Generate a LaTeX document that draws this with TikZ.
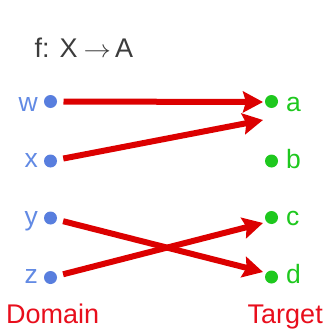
\documentclass[tikz,border=0pt]{standalone}
\usepackage{fontspec}
\usepackage{graphicx}
\setmainfont{Liberation Sans}
\usetikzlibrary{arrows.meta}

\definecolor{dombl}{RGB}{88,126,222}
\definecolor{domtxt}{RGB}{98,138,228}
\definecolor{tgtgr}{RGB}{30,200,30}
\definecolor{maparrow}{RGB}{220,0,0}
\definecolor{captred}{RGB}{232,14,28}
\definecolor{titlegray}{RGB}{60,60,60}

\begin{document}
\begin{tikzpicture}[x=1pt,y=-1pt,
  dom/.style={circle,fill=dombl,inner sep=0pt,minimum size=13pt},
  tgt/.style={circle,fill=tgtgr,inner sep=0pt,minimum size=13pt},
  domlab/.style={anchor=base east,inner sep=0pt,text=domtxt,font=\fontsize{26.5}{30}\selectfont},
  tgtlab/.style={anchor=base west,inner sep=0pt,text=tgtgr,font=\fontsize{26.5}{30}\selectfont},
  caption/.style={anchor=base west,inner sep=0pt,text=captred,font=\fontsize{27}{30}\selectfont},
  maps/.style={draw=maparrow,line width=6pt,shorten <=13pt,
    -{Stealth[length=20pt,width=21pt,inset=3pt]}}
]
\useasboundingbox (0,0) rectangle (325,329);

% title
\node[anchor=base west,inner sep=0pt,text=titlegray,font=\fontsize{27}{30}\selectfont]
  (title) at (34.5,58) {f: X\hspace{6pt}\scalebox{1.1}[1]{$\rightarrow$}\hspace{4pt}A};

% domain points
\node[dom] (w) at (50.5,101.5) {};
\node[dom] (x) at (50.5,161) {};
\node[dom] (y) at (50.5,218) {};
\node[dom] (z) at (50.5,277.5) {};

% target points
\node[tgt] (a) at (271.5,101.5) {};
\node[tgt] (b) at (271.5,161) {};
\node[tgt] (c) at (271.5,217.5) {};
\node[tgt] (d) at (271.5,277) {};

% point labels
\node[domlab] (wl) at (38,111) {w};
\node[domlab] (xl) at (38,167.5) {x};
\node[domlab] (yl) at (38,225) {y};
\node[domlab] (zl) at (38,283) {z};
\node[tgtlab] (al) at (286,111) {a};
\node[tgtlab] (bl) at (286,168) {b};
\node[tgtlab] (cl) at (286,225) {c};
\node[tgtlab] (dl) at (286,283) {d};

% set captions
\node[caption] (domain) at (6,323) {Domain};
\node[caption] (target) at (247.5,323) {Target};

% arrow landing points beside the targets
\coordinate (a-in)  at (263,102);
\coordinate (a-in2) at (263,120);
\coordinate (c-in)  at (263,223);
\coordinate (d-in)  at (263,272);

% the mapping
\draw[maps] (w.center) -- (a-in);
\draw[maps] (x.center) -- (a-in2);
\draw[maps] (y.center) -- (d-in);
\draw[maps] (z.center) -- (c-in);
\end{tikzpicture}
\end{document}
